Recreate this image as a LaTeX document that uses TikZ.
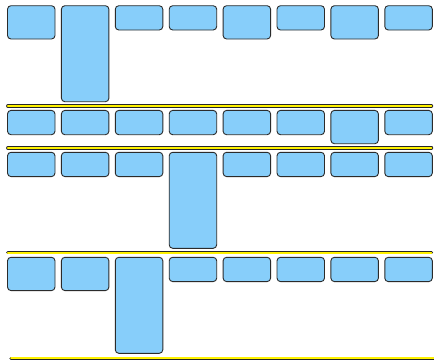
\documentclass[tikz,border=0pt]{standalone}
\usetikzlibrary{positioning}
\definecolor{boxblue}{HTML}{87CEFA}
\definecolor{boxedge}{HTML}{2B2B2B}
\definecolor{laneyellow}{HTML}{FFF200}
\tikzset{
  box/.style={draw=boxedge, fill=boxblue, line width=0.9pt, rounded corners=3.5pt,
    minimum width=47.5pt, anchor=north west, inner sep=0pt, outer sep=0pt},
  short/.style={box, minimum height=24.3pt},
  medium/.style={box, minimum height=33.3pt},
  tall/.style={box, minimum height=96pt},
  laneedge/.style={draw=black!85, line width=3.4pt, line cap=round},
  lanefill/.style={draw=laneyellow, line width=1.7pt, line cap=round}
}
\newcommand{\lanesep}[3]{%
  \draw[laneedge] (#1,#3) -- (#2,#3);
  \draw[lanefill] (#1,#3) -- (#2,#3);}
\begin{document}
\begin{tikzpicture}[x=1pt,y=-1pt]
\useasboundingbox (0,0) rectangle (434,359);
% row 1
\node[medium] (r1c1) at (7.5,5.7) {};
\node[tall]   (r1c2) at (61.4,5.7) {};
\node[short]  (r1c3) at (115.3,5.7) {};
\node[short]  (r1c4) at (169.2,5.7) {};
\node[medium] (r1c5) at (223.1,5.7) {};
\node[short]  (r1c6) at (277.0,5.7) {};
\node[medium] (r1c7) at (330.9,5.7) {};
\node[short]  (r1c8) at (384.8,5.7) {};
\lanesep{7.8}{431.5}{106}
% row 2
\node[short]  (r2c1) at (7.5,110.4) {};
\node[short]  (r2c2) at (61.4,110.4) {};
\node[short]  (r2c3) at (115.3,110.4) {};
\node[short]  (r2c4) at (169.2,110.4) {};
\node[short]  (r2c5) at (223.1,110.4) {};
\node[short]  (r2c6) at (277.0,110.4) {};
\node[medium] (r2c7) at (330.9,110.4) {};
\node[short]  (r2c8) at (384.8,110.4) {};
\lanesep{7.8}{431.5}{147.8}
% row 3
\node[short]  (r3c1) at (7.5,152.3) {};
\node[short]  (r3c2) at (61.4,152.3) {};
\node[short]  (r3c3) at (115.3,152.3) {};
\node[tall]   (r3c4) at (169.2,152.3) {};
\node[short]  (r3c5) at (223.1,152.3) {};
\node[short]  (r3c6) at (277.0,152.3) {};
\node[short]  (r3c7) at (330.9,152.3) {};
\node[short]  (r3c8) at (384.8,152.3) {};
\lanesep{7.8}{431.5}{252.7}
% row 4
\node[medium] (r4c1) at (7.5,257.3) {};
\node[medium] (r4c2) at (61.4,257.3) {};
\node[tall]   (r4c3) at (115.3,257.3) {};
\node[short]  (r4c4) at (169.2,257.3) {};
\node[short]  (r4c5) at (223.1,257.3) {};
\node[short]  (r4c6) at (277.0,257.3) {};
\node[short]  (r4c7) at (330.9,257.3) {};
\node[short]  (r4c8) at (384.8,257.3) {};
\lanesep{11}{440}{358.3}
\end{tikzpicture}
\end{document}
